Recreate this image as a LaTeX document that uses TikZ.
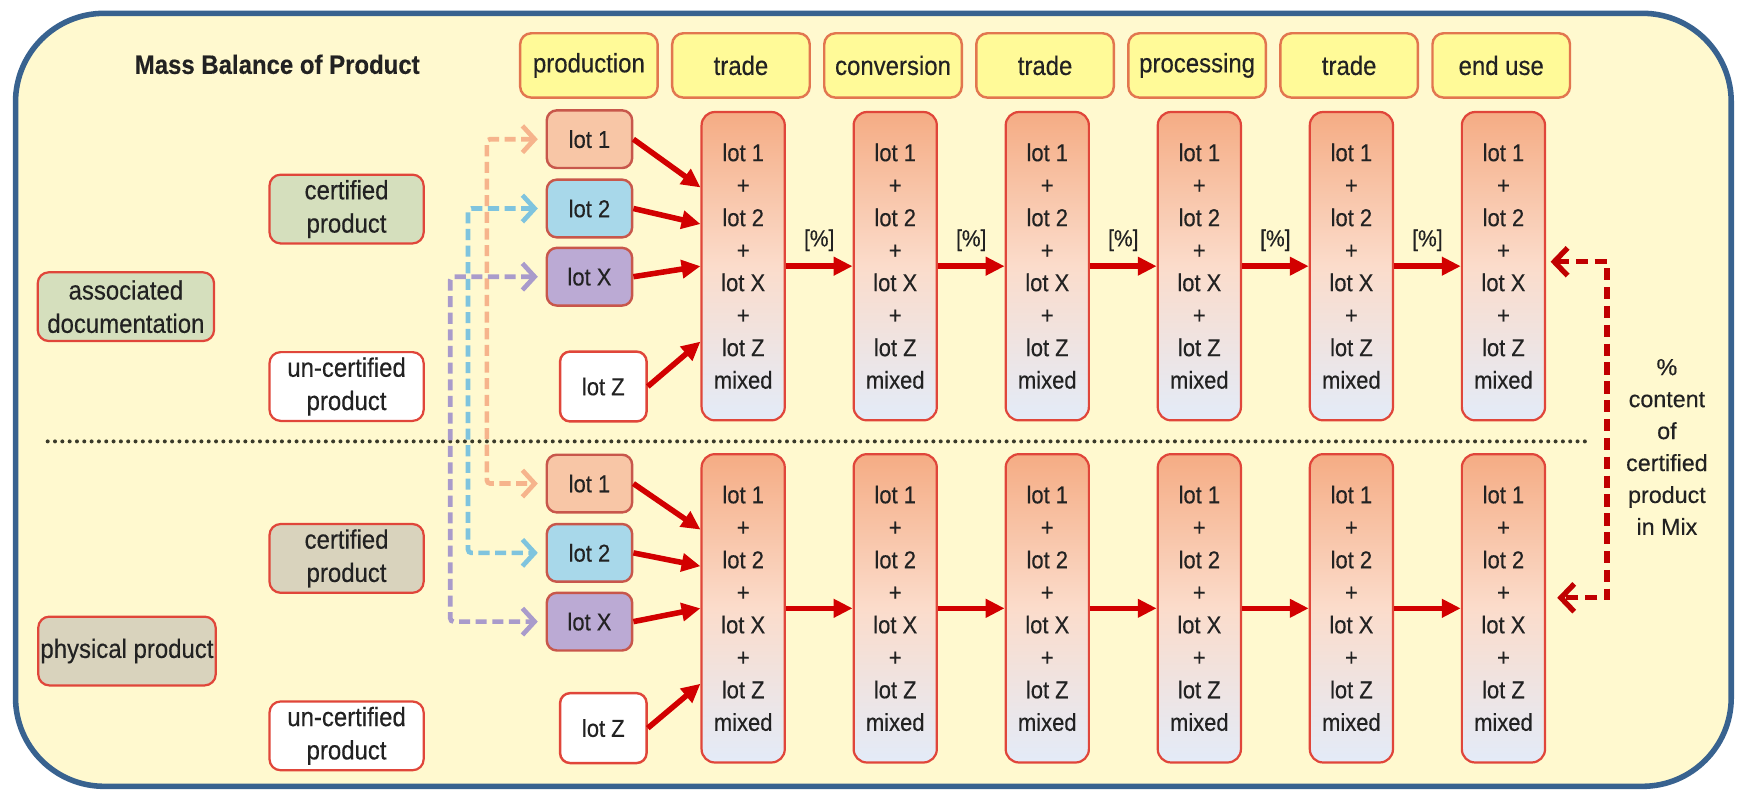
\documentclass[tikz,border=0pt]{standalone}
\usepackage{fontspec}
\setmainfont{Liberation Sans}[FakeStretch=0.9,FakeBold=0.35]
\newfontfamily\widesans{Liberation Sans}[FakeBold=0.35]
\usetikzlibrary{arrows.meta,calc}

\definecolor{paper}{HTML}{FFF9CF}
\definecolor{framebl}{HTML}{38628F}
\definecolor{hdrfill}{HTML}{FFFA98}
\definecolor{hdredge}{HTML}{E2764F}
\definecolor{boxedge}{HTML}{E0463A}
\definecolor{lotedge}{HTML}{C8574B}
\definecolor{lotone}{HTML}{F8C6A6}
\definecolor{lottwo}{HTML}{A8D8EA}
\definecolor{lotx}{HTML}{BBAAD4}
\definecolor{mixtop}{HTML}{F5AC84}
\definecolor{mixmid}{HTML}{FBDCCB}
\definecolor{mixbot}{HTML}{E3EBF8}
\definecolor{sage}{HTML}{D5DFBD}
\definecolor{beige}{HTML}{D9D3BD}
\definecolor{flowred}{HTML}{D20000}
\definecolor{linkred}{HTML}{C00000}
\definecolor{peach}{HTML}{F6B48C}
\definecolor{sky}{HTML}{7FC4DE}
\definecolor{lilac}{HTML}{A99BCB}
\definecolor{ink}{HTML}{222222}
\definecolor{dotcol}{HTML}{3A3A2A}

% contents of every mixing column
\newcommand{\mixlines}{lot 1\\+\\lot 2\\+\\lot X\\+\\lot Z\\mixed}

\begin{document}
\begin{tikzpicture}[x=1pt,y=-1pt,
  every node/.style={text=ink},
  stage/.style={draw=hdredge, line width=2.2pt, fill=hdrfill, rounded corners=10pt,
    minimum width=124pt, minimum height=58pt, inner sep=0pt, font=\fontsize{24}{28}\selectfont},
  mixbox/.style={draw=boxedge, line width=2pt, top color=mixtop, bottom color=mixbot, middle color=mixmid,
    rounded corners=12pt, minimum width=75pt, minimum height=278pt, inner sep=0pt, align=center,
    font=\fontsize{22}{29.3}\selectfont},
  lotbox/.style={draw=lotedge, line width=2.2pt, rounded corners=9pt, minimum width=77pt,
    minimum height=52pt, inner sep=0pt, font=\fontsize{22}{26}\selectfont},
  lotzbox/.style={lotbox, draw=boxedge, fill=white, minimum width=78pt, minimum height=63pt},
  sidebox/.style={draw=boxedge, line width=2pt, rounded corners=10pt, minimum width=139pt,
    minimum height=62pt, inner sep=0pt, align=center, font=\fontsize{24}{30}\selectfont},
  flow/.style={draw=flowred, line width=5pt, -{Triangle[length=17pt,width=16pt]}},
  pctlabel/.style={font=\fontsize{21}{24}\selectfont, inner sep=0pt},
  trace/.style={line width=4.2pt, dash pattern=on 10pt off 5pt, rounded corners=3pt,
    {Straight Barb[length=11pt,width=24pt,line width=4.2pt]}-{Straight Barb[length=11pt,width=24pt,line width=4.2pt]},
    shorten <=7pt, shorten >=7pt},
  link/.style={draw=linkred, line width=4.8pt, dash pattern=on 11pt off 6pt,
    {Straight Barb[length=12pt,width=25pt,line width=4.8pt]}-{Straight Barb[length=12pt,width=25pt,line width=4.8pt]},
    shorten <=4pt, shorten >=10pt},
  sepline/.style={draw=dotcol, line width=3.6pt, line cap=round, dash pattern=on 0pt off 6.6pt}
]
\useasboundingbox (0,0) rectangle (1568,715);
\fill[white] (0,0) rectangle (1568,715);

% outer frame
\draw[line width=5pt, draw=framebl, fill=paper, rounded corners=80pt] (14,12) rectangle (1561,709);

% title
\node[font=\bfseries\fontsize{24}{28}\selectfont] (title) at (250,58) {Mass Balance of Product};

% stage headers
\foreach \nm/\txt [count=\i from 0] in {hProd/production, hTradeA/trade, hConv/conversion,
    hTradeB/trade, hProc/processing, hTradeC/trade, hEnd/end use}
  \node[stage] (\nm) at (531+137.1*\i, 59) {\txt};

% mixing columns, documentation row and physical row
\foreach \i in {0,...,5} {
  \node[mixbox] (colT\i) at (670.1+137.1*\i, 240) {\mixlines};
  \node[mixbox] (colB\i) at (670.1+137.1*\i, 548.5) {\mixlines};
}

% separator between the two rows
\coordinate (sepL) at (43,398);
\coordinate (sepR) at (1434,398);
\draw[sepline] (sepL) -- (sepR);

% left column boxes
\node[sidebox, fill=sage] (certT) at (312.5,188.5) {certified\\product};
\node[sidebox, fill=white] (uncertT) at (312.5,348.5) {un-certified\\product};
\node[sidebox, fill=sage, minimum width=159pt] (assoc) at (113.5,276.5) {associated\\documentation};
\node[sidebox, fill=beige] (certB) at (312.5,503.5) {certified\\product};
\node[sidebox, fill=white] (uncertB) at (312.5,663.5) {un-certified\\product};
\node[sidebox, fill=beige, minimum width=160pt] (phys) at (114.5,587) {physical product};

% lots
\node[lotbox, fill=lotone] (lotT1) at (531.5,125.5) {lot 1};
\node[lotbox, fill=lottwo] (lotT2) at (531.5,188) {lot 2};
\node[lotbox, fill=lotx] (lotTX) at (531.5,249.5) {lot X};
\node[lotzbox] (lotTZ) at (544,348.5) {lot Z};
\node[lotbox, fill=lotone] (lotB1) at (531.5,436) {lot 1};
\node[lotbox, fill=lottwo] (lotB2) at (531.5,498.5) {lot 2};
\node[lotbox, fill=lotx] (lotBX) at (531.5,560.5) {lot X};
\node[lotzbox] (lotBZ) at (544,656.5) {lot Z};

% lots into the first mix
\draw[flow] (lotT1.east) -- ($(colT0.north west)+(0,69)$);
\draw[flow] (lotT2.east) -- ($(colT0.north west)+(0,102)$);
\draw[flow] (lotTX.east) -- ($(colT0.north west)+(0,140)$);
\draw[flow] (lotTZ.east) -- ($(colT0.north west)+(0,208)$);
\draw[flow] (lotB1.east) -- ($(colB0.north west)+(0,69)$);
\draw[flow] (lotB2.east) -- ($(colB0.north west)+(0,102)$);
\draw[flow] (lotBX.east) -- ($(colB0.north west)+(0,140)$);
\draw[flow] (lotBZ.east) -- ($(colB0.north west)+(0,208)$);

% flows along the chain
\foreach \i [count=\j from 1] in {0,...,4} {
  \draw[flow] (colT\i.east) -- node[pctlabel, above=11pt] (pct\i) {[\%]} (colT\j.west);
  \draw[flow] (colB\i.east) -- (colB\j.west);
}

% certified lots traced between documentation and physical product
\coordinate (vPe) at (439,0);
\coordinate (vBl) at (422,0);
\coordinate (vPu) at (406,0);
\draw[trace, draw=peach] (lotT1.west) -- (lotT1.west -| vPe) -- (lotB1.west -| vPe) -- (lotB1.west);
\draw[trace, draw=sky] (lotT2.west) -- (lotT2.west -| vBl) -- (lotB2.west -| vBl) -- (lotB2.west);
\draw[trace, draw=lilac] (lotTX.west) -- (lotTX.west -| vPu) -- (lotBX.west -| vPu) -- (lotBX.west);

% certified share in the end-use mix
\coordinate (pcT) at (1449,236);
\coordinate (pcB) at (1449,539);
\draw[link] (colT5.east |- pcT) -- (pcT) -- (pcB) -- (colB5.east |- pcB);
\node[font=\widesans\fontsize{21}{28.8}\selectfont, align=center] (share) at (1503,403)
  {\%\\content\\of\\certified\\product\\in Mix};
\end{tikzpicture}
\end{document}
